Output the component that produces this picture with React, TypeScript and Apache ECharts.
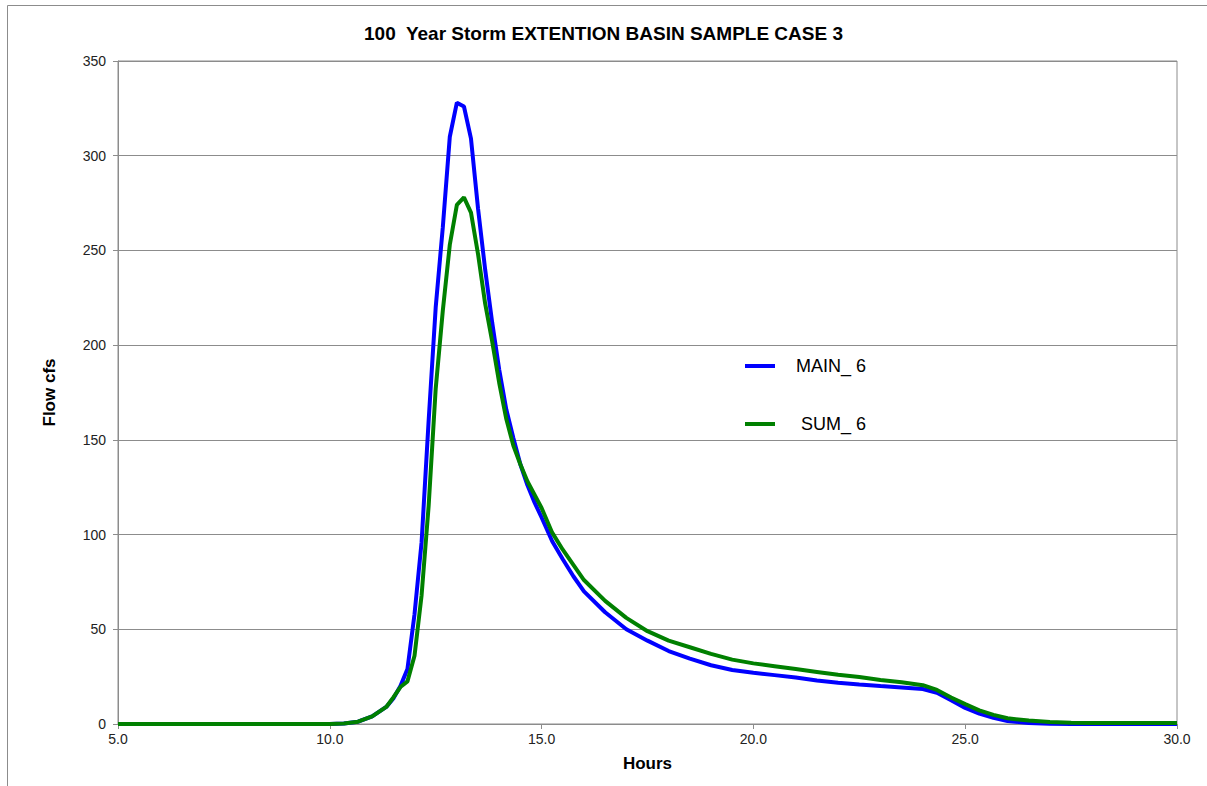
import React, { useEffect, useRef } from "react";
import * as echarts from "echarts";

const TITLE = "100  Year Storm EXTENTION BASIN SAMPLE CASE 3";
const X_NAME = "Hours";
const Y_NAME = "Flow cfs";
const SERIES_NAMES = ["MAIN_ 6", "SUM_ 6"];

const hours = [
  5, 10, 10.333, 10.667, 11, 11.333, 11.5, 11.667, 11.833, 12, 12.167, 12.333, 12.5, 12.667,
  12.833, 13, 13.167, 13.333, 13.5, 13.667, 13.833, 14, 14.167, 14.333, 14.5, 14.667, 14.833,
  15, 15.25, 15.5, 15.75, 16, 16.5, 17, 17.5, 18, 18.5, 19, 19.5, 20, 20.5, 21, 21.5, 22, 22.5,
  23, 23.5, 24, 24.333, 24.667, 25, 25.333, 25.667, 26, 26.5, 27, 27.5, 28, 30,
];

const main6 = [
  0, 0, 0.3, 1.2, 4, 9, 13.5, 20, 29, 58, 96, 160, 220, 262,
  310, 328, 326, 309, 272, 240, 212, 187, 166, 151, 137, 126, 117,
  109, 96.5, 87, 78, 70, 59, 50, 44, 38.5, 34.5, 31, 28.5, 27, 25.8, 24.5, 23, 21.8, 20.8,
  20, 19.3, 18.5, 16.5, 12.5, 8.5, 5.5, 3.3, 1.6, 0.5, 0.1, 0, 0, 0,
];

const sum6 = [
  0, 0, 0.3, 1.2, 4, 9, 14, 19.5, 22.5, 36, 68, 115, 177, 218,
  253, 274, 278, 270, 248, 222, 202, 180, 161, 147, 137, 128, 121,
  114, 101, 92, 84, 76, 65, 56, 49, 44, 40.5, 37, 34, 32, 30.5, 29, 27.5, 26, 24.8,
  23.2, 22, 20.5, 18, 14, 10.5, 7.2, 4.8, 3, 1.8, 1, 0.7, 0.5, 0.5,
];

const COLORS = ["#0000ff", "#008000"];

export default function App() {
  const ref = useRef<HTMLDivElement>(null);

  useEffect(() => {
    document.body.style.margin = "0";
    if (!ref.current) return;
    const chart = echarts.init(ref.current, null, { renderer: "svg" });
    const font = "'Liberation Sans', Arial, sans-serif";
    const toPairs = (vals: number[]) => hours.map((h, i) => [h, vals[i]]);
    chart.setOption({
      animation: false,
      backgroundColor: "#ffffff",
      textStyle: { fontFamily: font },
      title: {
        text: TITLE,
        left: "center",
        top: 19,
        textStyle: { fontFamily: font, fontSize: 19, fontWeight: "bold", color: "#000" },
      },
      graphic: [
        {
          type: "rect",
          shape: { x: 7.5, y: 5.5, width: 1400, height: 1000 },
          style: { fill: "none", stroke: "#8c8c8c", lineWidth: 1 },
          silent: true,
        },
      ],
      legend: {
        orient: "vertical",
        left: 740,
        top: 352,
        itemWidth: 30,
        itemHeight: 14,
        itemGap: 40,
        data: SERIES_NAMES.map((n, i) => ({
          name: n,
          icon: "path://M0,0 L30,0 L30,4 L0,4 Z",
          itemStyle: { color: COLORS[i] },
        })),
        formatter: (name: string) => (name === SERIES_NAMES[1] ? "{s|" + name + "}" : "{m|" + name + "}"),
        textStyle: {
          fontFamily: font,
          fontSize: 18,
          color: "#000",
          padding: [0, 0, 0, 16],
          rich: {
            m: { fontFamily: font, fontSize: 18, color: "#000" },
            s: { fontFamily: font, fontSize: 18, color: "#000", padding: [0, 0, 0, 5] },
          },
        },
      },
      grid: { left: 118, right: 30, top: 61, bottom: 62, show: true, borderColor: "#8c8c8c", borderWidth: 1 },
      xAxis: {
        type: "value",
        min: 5,
        max: 30,
        interval: 5,
        name: X_NAME,
        nameLocation: "middle",
        nameGap: 31,
        nameTextStyle: { fontFamily: font, fontSize: 17, fontWeight: "bold", color: "#000" },
        axisLine: { lineStyle: { color: "#8c8c8c" } },
        axisTick: { show: true, length: 5, lineStyle: { color: "#8c8c8c" } },
        axisLabel: {
          fontSize: 14,
          color: "#222",
          margin: 8,
          formatter: (v: number) => v.toFixed(1),
        },
        splitLine: { show: false },
      },
      yAxis: {
        type: "value",
        min: 0,
        max: 350,
        interval: 50,
        name: Y_NAME,
        nameLocation: "middle",
        nameGap: 60,
        nameRotate: 90,
        nameTextStyle: { fontFamily: font, fontSize: 17, fontWeight: "bold", color: "#000" },
        axisLine: { show: true, lineStyle: { color: "#8c8c8c" } },
        axisTick: { show: true, length: 5, lineStyle: { color: "#8c8c8c" } },
        axisLabel: { fontSize: 14, color: "#222", margin: 12 },
        splitLine: { show: true, lineStyle: { color: "#8c8c8c", width: 1 } },
      },
      series: [
        {
          name: SERIES_NAMES[0],
          type: "line",
          data: toPairs(main6),
          showSymbol: false,
          lineStyle: { color: COLORS[0], width: 4 },
          itemStyle: { color: COLORS[0] },
          z: 2,
        },
        {
          name: SERIES_NAMES[1],
          type: "line",
          data: toPairs(sum6),
          showSymbol: false,
          lineStyle: { color: COLORS[1], width: 4 },
          itemStyle: { color: COLORS[1] },
          z: 3,
        },
      ],
    });
    return () => chart.dispose();
  }, []);

  return <div ref={ref} style={{ width: 1207, height: 786 }} />;
}
